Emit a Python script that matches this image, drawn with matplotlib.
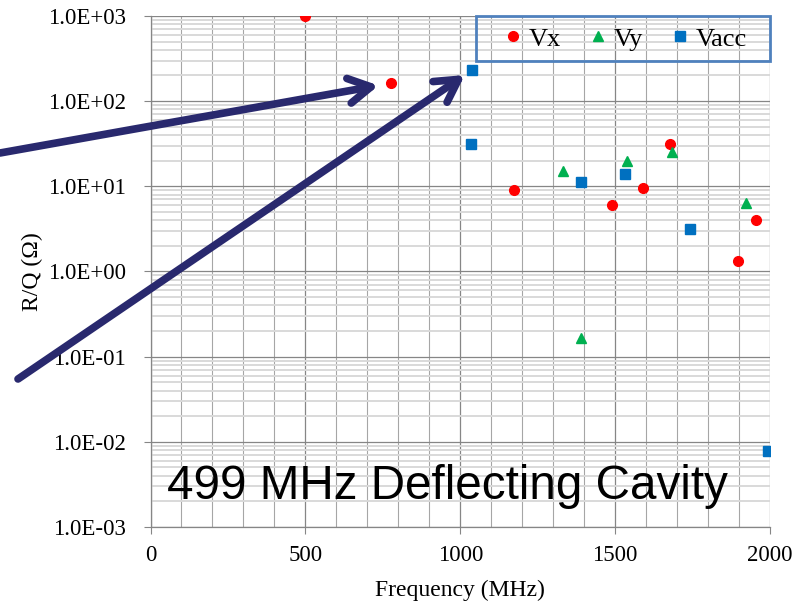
import numpy as np
import matplotlib
matplotlib.use('Agg')
import matplotlib.pyplot as plt
from matplotlib.patches import ConnectionPatch, Rectangle
from matplotlib.ticker import FuncFormatter, LogLocator, MultipleLocator, NullFormatter

# Data
vx_freq = [500, 776, 1172, 1489, 1589, 1676, 1895, 1956]
vx_rq = [1000, 162, 9.1, 6.1, 9.6, 31.5, 1.33, 4.0]

vy_freq = [1330, 1391, 1537, 1685, 1923]
vy_rq = [15.3, 0.165, 19.9, 25.1, 6.4]

vacc_freq = [1035, 1037, 1391, 1532, 1743, 1992]
vacc_rq = [31.2, 230, 11.2, 14.1, 3.13, 0.0079]

x_ticks = [0, 500, 1000, 1500, 2000]
y_ticks = [1e-3, 1e-2, 1e-1, 1e0, 1e1, 1e2, 1e3]
title_text = '499 MHz Deflecting Cavity'

serif = ['Liberation Serif', 'DejaVu Serif']
sans = ['Liberation Sans', 'DejaVu Sans']

fig = plt.figure(figsize=(7.98, 6.05), dpi=100)
ax = fig.add_axes([0.1886, 0.129, 0.965 - 0.1886, 0.9736 - 0.129])

ax.set_yscale('log')
ax.set_xlim(0, 2000)
ax.set_ylim(1e-3, 1e3)

# grid like the Excel original
ax.set_xticks(x_ticks)
ax.set_yticks(y_ticks)
ax.xaxis.set_minor_locator(MultipleLocator(100))
ax.yaxis.set_minor_locator(LogLocator(base=10, subs=np.arange(2, 10), numticks=20))
ax.yaxis.set_minor_formatter(NullFormatter())
ax.grid(axis='y', which='minor', color='#d9d9d9', lw=1.4)
ax.grid(axis='x', which='minor', color='#a6a6a6', lw=0.8)
ax.grid(which='major', color='#868686', lw=0.9)
ax.set_axisbelow(True)

for s in ['top', 'right']:
    ax.spines[s].set_visible(False)
for s in ['left', 'bottom']:
    ax.spines[s].set_color('#868686')
    ax.spines[s].set_linewidth(0.9)

ax.tick_params(which='major', direction='out', length=5, color='#868686', labelsize=16.5)
ax.tick_params(axis='y', pad=12.5)
ax.tick_params(axis='x', pad=8)
ax.tick_params(which='minor', length=0)
ax.yaxis.set_major_formatter(FuncFormatter(lambda v, p: '%.1E' % v))
for lab in ax.get_xticklabels() + ax.get_yticklabels():
    lab.set_family(serif)

ax.plot(vx_freq, vx_rq, 'o', color='#ff0000', ms=7, label='Vx')
ax.plot(vy_freq, vy_rq, '^', color='#00b050', ms=7, label='Vy')
ax.plot(vacc_freq, vacc_rq, 's', color='#0070c0', ms=6.5, label='Vacc')

ax.set_xlabel('Frequency (MHz)', family=serif, fontsize=17, labelpad=10)
ax.set_ylabel('R/Q (Ω)', family=serif, fontsize=17, labelpad=4)

# legend without frame, blue box drawn separately (wider padding left/right)
ax.legend(loc='center', ncol=3, bbox_to_anchor=(0.766, 0.955), frameon=False,
          prop={'family': serif, 'size': 19}, handletextpad=0.25, columnspacing=1.05,
          handlelength=0.7, borderpad=0.0)
ax.add_patch(Rectangle((0.5254, 0.912), 1.0 - 0.5254, 0.0875, transform=ax.transAxes,
                       fill=False, edgecolor='#4f81bd', lw=2, clip_on=False, zorder=5))

ax.text(0.48, 0.08, title_text, transform=ax.transAxes, ha='center', va='center',
        family=sans, fontsize=34.3)

# arrows pointing at the two highlighted modes (start points in figure pixels)
arrow_color = '#29296e'
head = '->,head_length=0.8,head_width=0.45'
arrow_starts = [(0, 452), (18, 226)]
arrow_targets = [(vx_freq[1], vx_rq[1], 9), (vacc_freq[1], vacc_rq[1], 6)]
for (sx, sy), (tx, ty, shrink) in zip(arrow_starts, arrow_targets):
    con = ConnectionPatch(xyA=(sx, sy), coordsA='figure pixels', xyB=(tx, ty), coordsB='data',
                          axesA=ax, axesB=ax, arrowstyle=head, color=arrow_color, lw=5.5,
                          capstyle='round', joinstyle='round', shrinkA=0, shrinkB=shrink,
                          mutation_scale=20, zorder=6)
    fig.add_artist(con)

fig.savefig('out.png', dpi=100)
